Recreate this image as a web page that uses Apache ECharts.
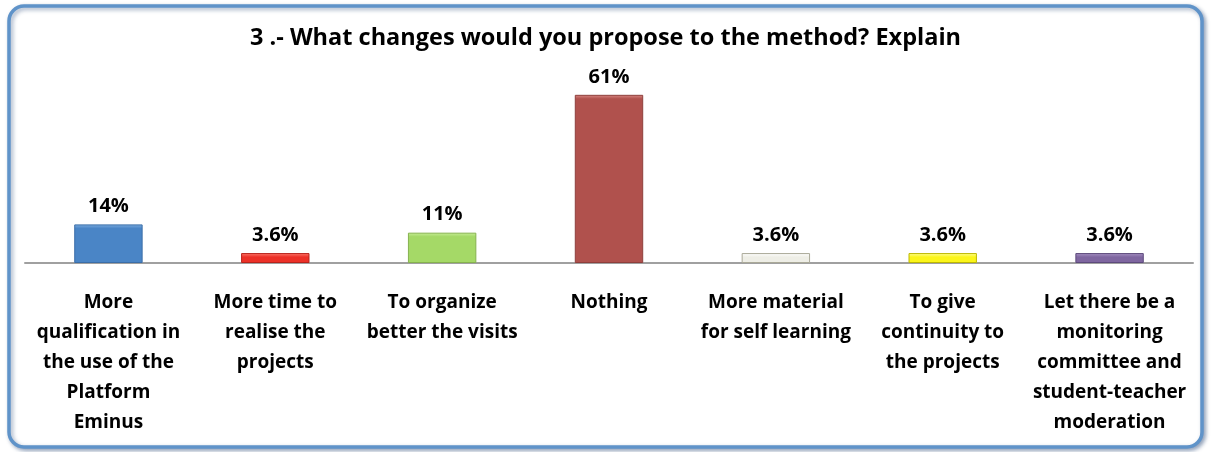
<!DOCTYPE html>
<html>
<head>
<meta charset="utf-8">
<script src="https://cdn.jsdelivr.net/npm/echarts@6/dist/echarts.min.js"></script>
<style>
  html, body { margin: 0; padding: 0; background: #ffffff; }
  #chart { width: 1211px; height: 452px; }
</style>
</head>
<body>
<div id="chart"></div>
<script>
// Survey answers: proposed changes to the method (share of respondents, %)
const categories = [
  'More\nqualification in\nthe use of the\nPlatform\nEminus',
  'More time to\nrealise the\nprojects',
  'To organize\nbetter the visits',
  'Nothing',
  'More material\nfor self learning',
  'To give\ncontinuity to\nthe projects',
  'Let there be a\nmonitoring\ncommittee and\nstudent-teacher\nmoderation'
];
const values = [14, 3.6, 11, 61, 3.6, 3.6, 3.6];
const valueLabels = ['14%', '3.6%', '11%', '61%', '3.6%', '3.6%', '3.6%'];

// Per-bar palette: [top highlight, body, border]
const barColors = [
  ['#7eaee0', '#4a85c6', '#3b6ea8'],
  ['#ff7a6e', '#ec3128', '#b8231c'],
  ['#c8ee98', '#a5d967', '#86b24e'],
  ['#d98985', '#b0514d', '#8e3f3c'],
  ['#ffffff', '#eeeee6', '#aaa998'],
  ['#ffff9a', '#fbf51a', '#bdb800'],
  ['#a894c4', '#7f66a0', '#5d4a7c']
];

const chart = echarts.init(document.getElementById('chart'), null, { renderer: 'canvas' });

const font = '"Open Sans", "DejaVu Sans", sans-serif';

chart.setOption({
  backgroundColor: '#ffffff',
  animation: false,
  graphic: [{
    type: 'rect',
    z: -10,
    shape: { x: 9, y: 6, width: 1193, height: 441, r: 15 },
    style: {
      fill: '#ffffff',
      stroke: '#5f93c9',
      lineWidth: 3.5,
      shadowColor: 'rgba(40,70,120,0.45)',
      shadowBlur: 4,
      shadowOffsetX: 2,
      shadowOffsetY: 2
    }
  }],
  title: {
    text: '3 .- What changes would you propose to the method? Explain',
    left: 'center',
    top: 21,
    textStyle: { fontFamily: font, fontSize: 23.5, fontWeight: 'bold', color: '#000000' }
  },
  grid: { left: 25, right: 18, top: 70, bottom: 189, containLabel: false },
  xAxis: {
    type: 'category',
    data: categories,
    axisLine: { show: true, lineStyle: { color: '#a0a0a0', width: 2 } },
    axisTick: { show: false },
    axisLabel: {
      interval: 0,
      margin: 25,
      fontFamily: font,
      fontSize: 19,
      fontWeight: 'bold',
      color: '#000000',
      lineHeight: 30,
      align: 'center'
    }
  },
  yAxis: {
    type: 'value',
    min: 0,
    max: 70,
    show: false,
    splitLine: { show: false }
  },
  series: [{
    type: 'bar',
    barWidth: '41%',
    data: values.map((v, i) => ({
      value: v,
      itemStyle: {
        color: new echarts.graphic.LinearGradient(0, 0, 0, 1, [
          { offset: 0, color: barColors[i][0] },
          { offset: Math.min(0.5, 4 / Math.max(v * 2.75, 1)), color: barColors[i][1] },
          { offset: 1, color: barColors[i][1] }
        ]),
        borderColor: barColors[i][2],
        borderWidth: 1
      }
    })),
    label: {
      show: true,
      position: 'top',
      distance: 8,
      formatter: p => valueLabels[p.dataIndex],
      fontFamily: font,
      fontSize: 20,
      fontWeight: 'bold',
      color: '#000000'
    }
  }]
});
</script>
</body>
</html>
